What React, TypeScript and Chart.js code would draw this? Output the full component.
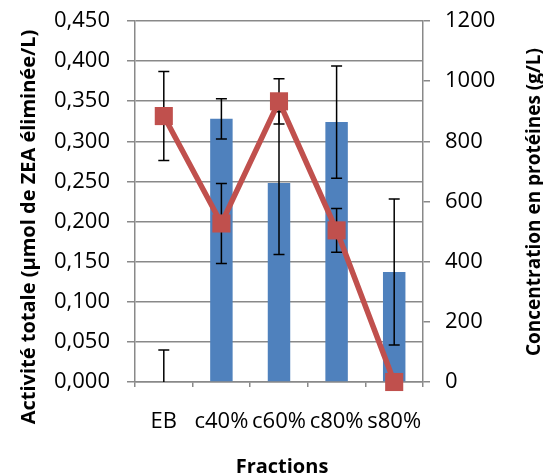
import React, { useEffect, useRef } from "react";
import { Chart, registerables } from "chart.js";

Chart.register(...registerables);

// ---- Data ----
const categories = ["EB", "c40%", "c60%", "c80%", "s80%"];
const activityValues = [0, 0.328, 0.248, 0.324, 0.137];
const activityErrors = [0.04, 0.025, 0.089, 0.07, 0.091];
const proteinValues = [884, 527, 933, 504, 0];
const proteinErrors = [148, 133, 75, 73, 0];

const leftAxisTitle = "Activité totale (µmol de ZEA éliminée/L)";
const rightAxisTitle = "Concentration en protéines (g/L)";
const xAxisTitle = "Fractions";

const FONT = "'Open Sans', 'DejaVu Sans', sans-serif";
const GRID = "#898989";

const errorBarPlugin = {
  id: "errorBars",
  afterDatasetDraw(chart: any, args: any) {
    if (args.index !== 0) return;
    const ctx = chart.ctx;
    const area = chart.chartArea;
    ctx.save();
    ctx.beginPath();
    ctx.rect(area.left, area.top - 2, area.right - area.left, area.bottom - area.top + 2);
    ctx.clip();
    ctx.strokeStyle = "#000";
    ctx.lineWidth = 1.5;
    const sets = [
      { meta: chart.getDatasetMeta(0), vals: activityValues, errs: activityErrors, scale: chart.scales.y },
      { meta: chart.getDatasetMeta(1), vals: proteinValues, errs: proteinErrors, scale: chart.scales.y1 },
    ];
    const cap = 5.5;
    sets.forEach((s) => {
      s.vals.forEach((v, i) => {
        const e = s.errs[i];
        if (!e) return;
        const el = s.meta.data[i];
        if (!el) return;
        const x = el.x;
        const yt = s.scale.getPixelForValue(v + e);
        const yb = s.scale.getPixelForValue(v - e);
        ctx.beginPath();
        ctx.moveTo(x, yt);
        ctx.lineTo(x, yb);
        ctx.moveTo(x - cap, yt);
        ctx.lineTo(x + cap, yt);
        ctx.moveTo(x - cap, yb);
        ctx.lineTo(x + cap, yb);
        ctx.stroke();
      });
    });
    ctx.restore();
  },
};

const titlePlugin = {
  id: "titles",
  afterDraw(chart: any) {
    const ctx = chart.ctx;
    ctx.save();
    ctx.fillStyle = "#000";
    ctx.font = `bold 20px ${FONT}`;
    ctx.textAlign = "center";
    ctx.textBaseline = "alphabetic";
    ctx.save();
    ctx.translate(35, 227);
    ctx.rotate(-Math.PI / 2);
    ctx.fillText(leftAxisTitle, 0, 0);
    ctx.restore();
    ctx.save();
    ctx.font = `bold 19px ${FONT}`;
    ctx.translate(540, 202);
    ctx.rotate(-Math.PI / 2);
    ctx.fillText(rightAxisTitle, 0, 0);
    ctx.restore();
    ctx.fillText(xAxisTitle, 282, 473);
    ctx.restore();
  },
};

const noPadY = (w: number) => (s: any) => {
  s.width = w;
  s.paddingTop = 0;
  s.paddingBottom = 0;
};

export default function App() {
  const ref = useRef<HTMLCanvasElement>(null);
  useEffect(() => {
    document.body.style.margin = "0";
    let chart: any = null;
    let cancelled = false;
    const make = () => {
      if (cancelled || !ref.current) return;
      chart = new Chart(ref.current, {
        type: "bar",
        data: {
          labels: categories,
          datasets: [
            {
              type: "bar",
              label: "Activité totale",
              data: activityValues,
              yAxisID: "y",
              backgroundColor: "#4F81BD",
              borderWidth: 0,
              barPercentage: 0.39,
              categoryPercentage: 1,
              order: 1,
            },
            {
              type: "line",
              label: "Concentration en protéines",
              data: proteinValues,
              yAxisID: "y1",
              borderColor: "#C0504D",
              backgroundColor: "#C0504D",
              borderWidth: 5.5,
              pointStyle: "rect",
              pointRadius: 12.8,
              pointBorderWidth: 0,
              pointBackgroundColor: "#C0504D",
              tension: 0,
              clip: false,
              order: 0,
            } as any,
          ],
        },
        options: {
          responsive: false,
          animation: false,
          layout: { padding: { top: 21, left: 0, right: 0, bottom: 0 } },
          plugins: { legend: { display: false }, tooltip: { enabled: false } },
          scales: {
            x: {
              offset: true,
              grid: { offset: true, drawOnChartArea: false, drawTicks: true, tickLength: 5, color: GRID, lineWidth: 1.5 },
              border: { display: true, color: GRID, width: 1.5 },
              ticks: { color: "#000", font: { family: FONT, size: 22 }, padding: 22, maxRotation: 0, autoSkip: false },
              afterFit: (s: any) => {
                s.height = 94;
                s.paddingLeft = 0;
                s.paddingRight = 0;
              },
            },
            y: {
              position: "left",
              min: 0,
              max: 0.45,
              ticks: {
                stepSize: 0.05,
                color: "#000",
                font: { family: FONT, size: 22 },
                padding: 17,
                callback: (v: any) => Number(v).toFixed(3).replace(".", ","),
              },
              grid: { color: GRID, lineWidth: 1.5, tickLength: 8 },
              border: { display: true, color: GRID, width: 1.5 },
              afterFit: noPadY(135),
            },
            y1: {
              position: "right",
              min: 0,
              max: 1200,
              ticks: {
                stepSize: 200,
                color: "#000",
                font: { family: FONT, size: 22 },
                padding: 15,
                callback: (v: any) => String(Math.round(Number(v))),
              },
              grid: { drawOnChartArea: false, color: GRID, lineWidth: 1.5, tickLength: 7 },
              border: { display: true, color: GRID, width: 1.5 },
              afterFit: noPadY(120),
            },
          },
        },
        plugins: [errorBarPlugin, titlePlugin],
      });
    };
    const fonts: any = (document as any).fonts;
    if (fonts && fonts.load) {
      Promise.all([fonts.load(`22px 'Open Sans'`), fonts.load(`bold 20px 'Open Sans'`)])
        .catch(() => {})
        .then(make);
    } else {
      make();
    }
    return () => {
      cancelled = true;
      if (chart) chart.destroy();
    };
  }, []);
  return <canvas ref={ref} width={543} height={476} style={{ display: "block" }} />;
}
